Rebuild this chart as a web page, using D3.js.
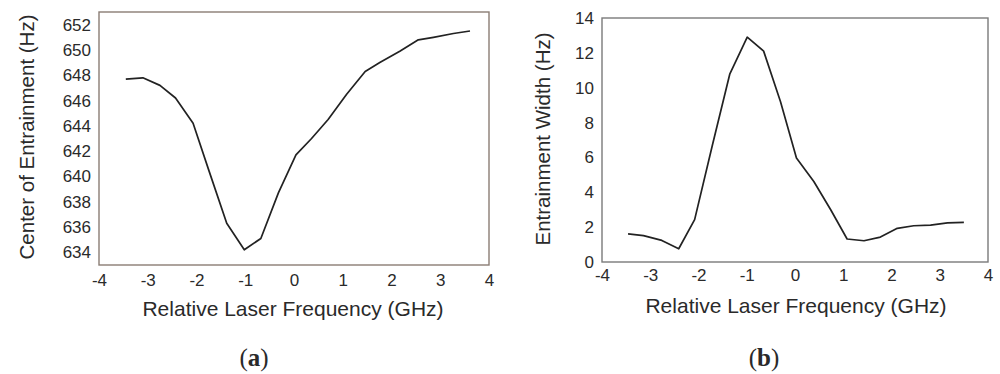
<!DOCTYPE html>
<html>
<head>
<meta charset="utf-8">
<script src="https://cdn.jsdelivr.net/npm/d3@7"></script>
<style>
  body { margin: 0; background: #fff; }
  svg text { font-family: "Liberation Sans", Arial, sans-serif; fill: #2a2a2a; }
</style>
</head>
<body>
<svg id="chart" width="1000" height="374"></svg>
<script>
// laser detuning (GHz) and measured values
const freqA = [-3.45, -3.10, -2.75, -2.43, -2.07, -1.74, -1.38, -1.02, -0.68, -0.32, 0.04, 0.36, 0.70, 1.08, 1.46, 1.76, 2.17, 2.55, 2.86, 3.27, 3.61];
const centerHz = [647.7, 647.8, 647.2, 646.2, 644.2, 640.4, 636.3, 634.2, 635.1, 638.7, 641.7, 643.0, 644.5, 646.5, 648.3, 649.0, 649.9, 650.8, 651.0, 651.3, 651.5];

const freqB = [-3.46, -3.14, -2.76, -2.41, -2.08, -1.71, -1.35, -0.99, -0.65, -0.30, 0.03, 0.39, 0.74, 1.08, 1.43, 1.77, 2.12, 2.46, 2.81, 3.16, 3.50];
const widthHz = [1.61, 1.51, 1.24, 0.76, 2.43, 6.73, 10.8, 12.9, 12.1, 9.2, 5.97, 4.62, 3.0, 1.32, 1.22, 1.43, 1.93, 2.08, 2.12, 2.24, 2.27];

const xTicks = [-4, -3, -2, -1, 0, 1, 2, 3, 4];
const yTicksA = [634, 636, 638, 640, 642, 644, 646, 648, 650, 652];
const yTicksB = [0, 2, 4, 6, 8, 10, 12, 14];

const svg = d3.select("#chart");
const plain = d => String(d); // hyphen minus like the original scan

function panel(opts) {
  const x = d3.scaleLinear().domain([-4, 4]).range([opts.left, opts.right]);
  const y = d3.scaleLinear().domain(opts.yDomain).range([opts.bottom, opts.top]);
  const g = svg.append("g");

  // frame
  g.append("rect")
    .attr("x", opts.left)
    .attr("y", opts.top)
    .attr("width", opts.right - opts.left)
    .attr("height", opts.bottom - opts.top)
    .attr("fill", "none")
    .attr("stroke", opts.frame)
    .attr("stroke-width", 1.4);

  // axes without tick marks
  const xAxis = g.append("g")
    .attr("transform", `translate(0,${opts.bottom})`)
    .call(d3.axisBottom(x).tickValues(xTicks).tickFormat(plain).tickSize(0).tickPadding(opts.xPad));
  xAxis.select(".domain").remove();
  xAxis.selectAll("text").style("font-size", "17px").attr("fill", "#1a1a1a");

  const yAxis = g.append("g")
    .attr("transform", `translate(${opts.left},0)`)
    .call(d3.axisLeft(y).tickValues(opts.yTicks).tickFormat(plain).tickSize(0).tickPadding(opts.yPad));
  yAxis.select(".domain").remove();
  yAxis.selectAll("text").style("font-size", "17px").attr("fill", "#1a1a1a");

  const line = d3.line().x(d => x(d[0])).y(d => y(d[1]));
  g.append("path")
    .datum(opts.xs.map((v, i) => [v, opts.ys[i]]))
    .attr("fill", "none")
    .attr("stroke", "#222")
    .attr("stroke-width", 1.7)
    .attr("stroke-linejoin", "round")
    .attr("d", line);

  g.append("text")
    .attr("x", opts.labelX)
    .attr("y", opts.bottom + 51)
    .attr("text-anchor", "middle")
    .style("font-size", "21px")
    .attr("fill", "#333")
    .text("Relative Laser Frequency (GHz)");

  g.append("text")
    .attr("transform", `translate(${opts.titleX},${opts.titleY}) rotate(-90)`)
    .attr("text-anchor", "middle")
    .style("font-size", "20.5px")
    .attr("fill", "#333")
    .text(opts.yTitle);

  const cap = g.append("text")
    .attr("x", opts.capX)
    .attr("y", 366)
    .attr("text-anchor", "middle")
    .style("font-family", "'Liberation Serif', 'DejaVu Serif', serif")
    .style("font-size", "25px")
    .attr("fill", "#111");
  cap.append("tspan").text("(");
  cap.append("tspan").style("font-weight", "bold").text(opts.cap);
  cap.append("tspan").text(")");
}

panel({
  left: 99, right: 489, top: 12, bottom: 265,
  yDomain: [633, 653], yTicks: yTicksA,
  xs: freqA, ys: centerHz,
  xPad: 9, yPad: 8, titleX: 34, titleY: 137, labelX: 293,
  yTitle: "Center of Entrainment (Hz)",
  frame: "#8a7d74", capX: 254, cap: "a"
});

panel({
  left: 602, right: 988, top: 18, bottom: 262,
  yDomain: [0, 14], yTicks: yTicksB,
  xs: freqB, ys: widthHz,
  xPad: 7, yPad: 8, titleX: 550, titleY: 139, labelX: 796,
  yTitle: "Entrainment Width (Hz)",
  frame: "#7a7a7a", capX: 764, cap: "b"
});
</script>
</body>
</html>
